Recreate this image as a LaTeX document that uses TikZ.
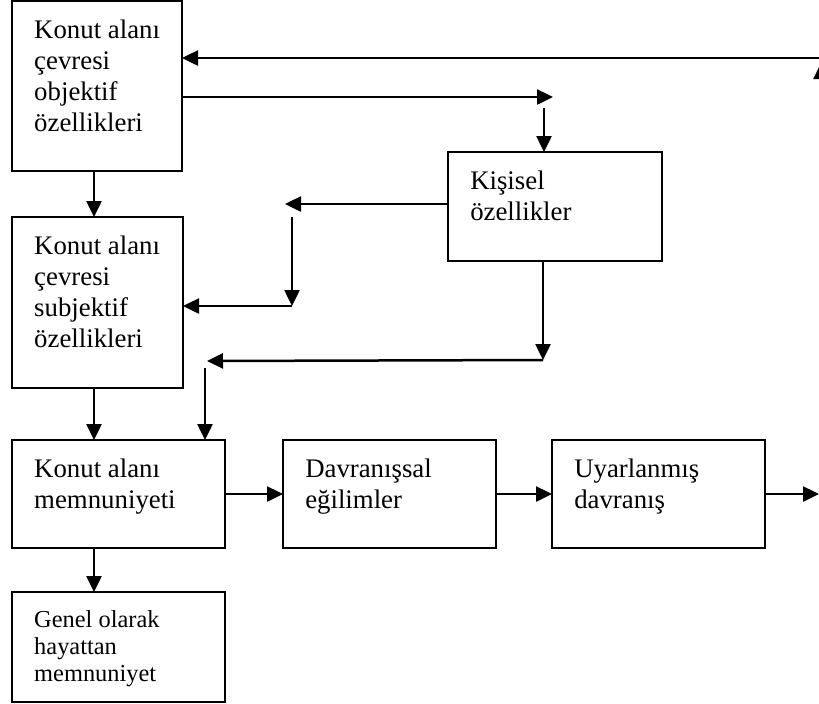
\documentclass[tikz,border=0pt]{standalone}
\usepackage{fontspec}
\setmainfont{Liberation Serif}
\usetikzlibrary{arrows.meta}

\begin{document}
\begin{tikzpicture}[x=.5pt,y=-.5pt,line width=1.25pt,
  kutu/.style={draw,anchor=north west,inner sep=0pt,outer sep=0pt},
  yazi/.style={anchor=north west,align=left,inner sep=0pt,font=\fontsize{13.4}{15.5}\selectfont},
  ok/.style={-{Triangle[length=8pt,width=7.5pt]}}]
\useasboundingbox (0,0) rectangle (819,703);
\clip (0,0) rectangle (819,703);
% kutular
\node[kutu,minimum width=85pt,minimum height=85pt] (obj) at (12,1) {};
\node[kutu,minimum width=85.5pt,minimum height=85.5pt] (subj) at (12,217) {};
\node[kutu,minimum width=106.5pt,minimum height=54pt] (memn) at (12,440) {};
\node[kutu,minimum width=106.5pt,minimum height=55pt] (genel) at (12,592) {};
\node[kutu,minimum width=107pt,minimum height=54.5pt] (kisisel) at (448,152) {};
\node[kutu,minimum width=106.5pt,minimum height=54pt] (davr) at (283,440) {};
\node[kutu,minimum width=106.5pt,minimum height=54pt] (uyar) at (552,440) {};
\node[yazi] (objy) at ([shift={(21,18)}]obj.north west) {Konut alanı\\çevresi\\objektif\\özellikleri};
\node[yazi] (subjy) at ([shift={(21,18)}]subj.north west) {Konut alanı\\çevresi\\subjektif\\özellikleri};
\node[yazi] (memny) at ([shift={(21,18)}]memn.north west) {Konut alanı\\memnuniyeti};
\node[yazi,font=\fontsize{12.2}{13.5}\selectfont] (genely) at ([shift={(21,17)}]genel.north west) {Genel olarak\\hayattan\\memnuniyet};
\node[yazi] (kisisely) at ([shift={(21,18)}]kisisel.north west) {Kişisel\\özellikler};
\node[yazi] (davry) at ([shift={(21,18)}]davr.north west) {Davranışsal\\eğilimler};
\node[yazi] (uyary) at ([shift={(21,18)}]uyar.north west) {Uyarlanmış\\davranış};
% oklar
\coordinate (d) at (94,0); \coordinate (sag) at (830,58); \coordinate (yukari) at (821,63); \coordinate (alt) at (821,492);
\coordinate (k1) at (553,97); \coordinate (k2) at (544,108);
\coordinate (s1) at (285,204); \coordinate (s2) at (292,217); \coordinate (s3) at (292,306);
\coordinate (a1) at (543,360); \coordinate (a2) at (207,361); \coordinate (a3) at (205,368);
\coordinate (son) at (819,0);
\draw[ok] (sag) -- (obj.east |- sag);
\draw[ok] (alt) -- (yukari);
\draw[ok] (obj.east |- k1) -- (k1);
\draw[ok] (k2) -- (kisisel.north -| k2);
\foreach \a/\b in {obj/subj,subj/memn,memn/genel} \draw[ok] (\a.south -| d) -- (\b.north -| d);
\draw[ok] (kisisel.west |- s1) -- (s1);
\draw[ok] (s2) -- (s3); \draw[ok] (s3) -- (subj.east |- s3);
\draw[ok] (kisisel.south -| a1) -- (a1); \draw[ok] (a1) -- (a2);
\draw[ok] (a3) -- (memn.north -| a3);
\foreach \a/\b in {memn/davr,davr/uyar} \draw[ok] (\a) -- (\b);
\draw[ok] (uyar.east) -- (son |- uyar.east);
\end{tikzpicture}
\end{document}
